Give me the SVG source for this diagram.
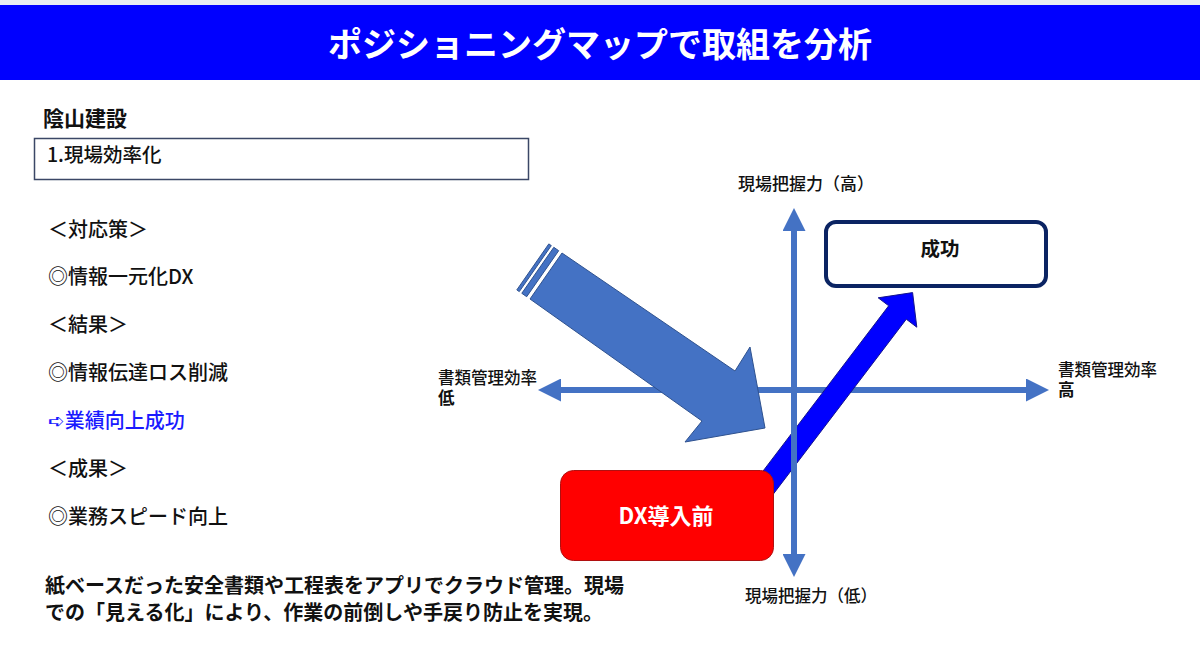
<svg xmlns="http://www.w3.org/2000/svg" width="1200" height="655" viewBox="0 0 1200 655">
  <style>
    .jp { font-family: "Noto Sans CJK JP", "DejaVu Sans", sans-serif; }
    .title { font-size: 34px; font-weight: 700; fill: #ffffff; }
    .list { font-size: 20px; font-weight: 500; fill: #111111; }
    .para { font-size: 20px; font-weight: 700; fill: #111111; }
    .axlbl { font-size: 16.5px; font-weight: 500; fill: #111111; }
    .bold { font-weight: 700; }
    .axis { stroke: #4472C4; stroke-width: 6; fill: none; }
  </style>
  <defs>
    <marker id="axhead" viewBox="0 0 23 23" refX="1" refY="11.5" markerWidth="23" markerHeight="23" markerUnits="userSpaceOnUse" orient="auto-start-reverse">
      <path d="M0,0 L23,11.5 L0,23 Z" fill="#4472C4"/>
    </marker>
  </defs>

  <rect x="0" y="0" width="1200" height="655" fill="#ffffff"/>

  <g id="title-banner">
    <rect x="0" y="0" width="1200" height="5" fill="#e9ecf3"/>
    <rect x="0" y="5" width="1200" height="75" fill="#0000FF"/>
    <text class="jp title" x="600" y="57" text-anchor="middle">ポジショニングマップで取組を分析</text>
  </g>

  <g id="company">
    <text class="jp" x="43" y="126" font-size="21" font-weight="700" fill="#111111">陰山建設</text>
  </g>

  <g id="theme-box">
    <rect x="34.5" y="138.5" width="494" height="41" fill="#ffffff" stroke="#3b4766" stroke-width="1.5"/>
    <text class="jp" x="47" y="162" font-size="19.5" font-weight="500" fill="#111111">1.現場効率化</text>
  </g>

  <g id="summary-list">
    <text class="jp list" x="48" y="237">＜対応策＞</text>
    <text class="jp list" x="48" y="284">◎情報一元化DX</text>
    <text class="jp list" x="48" y="332">＜結果＞</text>
    <text class="jp list" x="48" y="380">◎情報伝達ロス削減</text>
    <text class="jp list" x="48" y="428" style="fill:#1a1aff">➪業績向上成功</text>
    <text class="jp list" x="48" y="476">＜成果＞</text>
    <text class="jp list" x="48" y="524">◎業務スピード向上</text>
  </g>

  <g id="description">
    <text class="jp para" x="45" y="593">紙ベースだった安全書類や工程表をアプリでクラウド管理。現場</text>
    <text class="jp para" x="45" y="620">での「見える化」により、作業の前倒しや手戻り防止を実現。</text>
  </g>

  <g id="axis-labels">
    <text class="jp axlbl" x="738" y="190" style="font-size:17px">現場把握力（高）</text>
    <text class="jp axlbl" x="745" y="602">現場把握力（低）</text>
    <text class="jp axlbl" x="438" y="384">書類管理効率<tspan class="bold" x="438" dy="20">低</tspan></text>
    <text class="jp axlbl" x="1058" y="376">書類管理効率<tspan class="bold" x="1058" dy="20">高</tspan></text>
  </g>

  <g id="connectors">
    <line class="axis" x1="560" y1="390" x2="1027" y2="390" marker-start="url(#axhead)" marker-end="url(#axhead)"/>
    <g id="striped-arrow" fill="#4472C4" stroke="#2F528F" stroke-width="1">
      <polygon points="548.8,243.9 551.3,245.6 519.3,291.6 516.8,289.9"/>
      <polygon points="553.8,247.3 558.7,250.7 526.7,296.7 521.8,293.3"/>
      <polygon points="562,253 735,371 750,347 765,428 685,442 702,421 530,299"/>
    </g>
    <polygon id="progress-arrow" points="715.7,533.3 888.7,305.8 878.2,297.8 912.6,292.6 916.8,327.2 906.3,319.2 733.3,546.7" fill="#0000FF" stroke="#14148c" stroke-width="1"/>
    <line class="axis" x1="794" y1="230" x2="794" y2="555" marker-start="url(#axhead)" marker-end="url(#axhead)"/>
  </g>

  <g id="node-before">
    <rect x="560.5" y="470.5" width="213" height="90" rx="13" ry="13" fill="#FF0000" stroke="#b01010" stroke-width="1"/>
    <text class="jp" x="666" y="524" font-size="22" font-weight="700" fill="#ffffff" text-anchor="middle">DX導入前</text>
  </g>

  <g id="node-success">
    <rect x="826" y="222" width="220" height="64" rx="10" ry="10" fill="#ffffff" stroke="#0b2463" stroke-width="4"/>
    <text class="jp" x="940" y="256" font-size="19.5" font-weight="700" fill="#111111" text-anchor="middle">成功</text>
  </g>
</svg>
